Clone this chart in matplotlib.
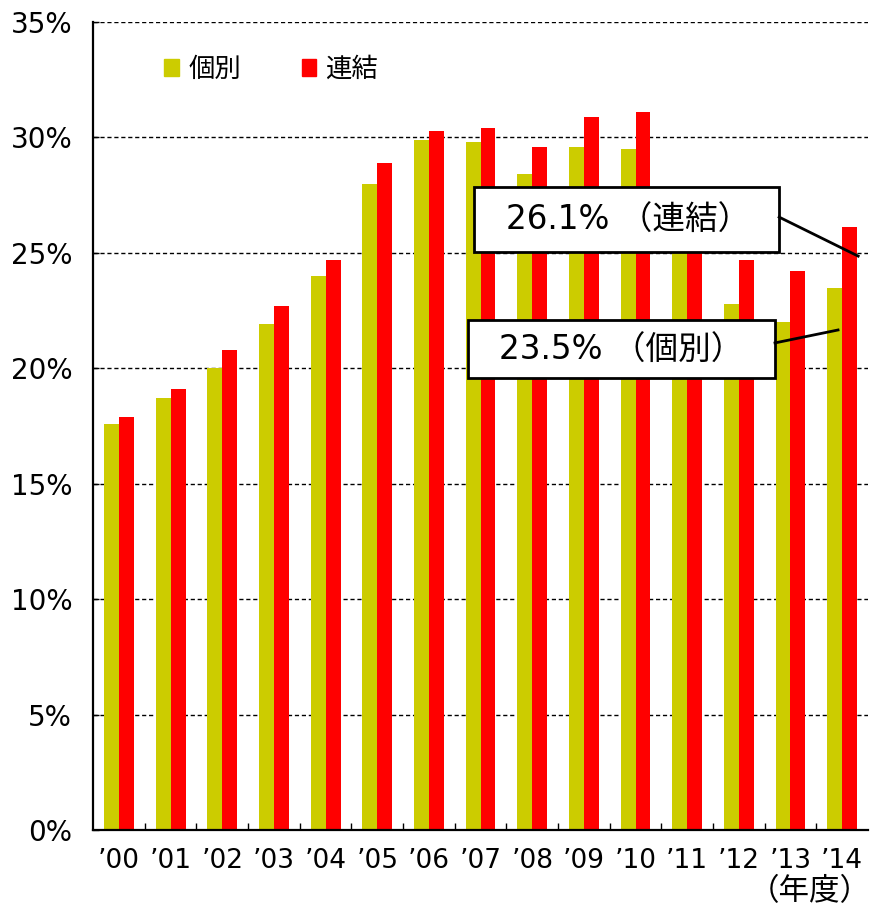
import matplotlib.pyplot as plt
import numpy as np
from matplotlib.patches import Rectangle, Patch
from matplotlib.ticker import FixedLocator, FuncFormatter

plt.rcParams['font.family'] = ['DejaVu Sans', 'Noto Sans CJK JP']

years = ['’00', '’01', '’02', '’03', '’04', '’05', '’06', '’07',
         '’08', '’09', '’10', '’11', '’12', '’13', '’14']
kobetsu = [17.6, 18.7, 20.0, 21.9, 24.0, 28.0, 29.9, 29.8,
           28.4, 29.6, 29.5, 25.9, 22.8, 22.0, 23.5]
renketsu = [17.9, 19.1, 20.8, 22.7, 24.7, 28.9, 30.3, 30.4,
            29.6, 30.9, 31.1, 27.0, 24.7, 24.2, 26.1]
yticks = [0, 5, 10, 15, 20, 25, 30, 35]

c_kobetsu = '#CCCC00'
c_renketsu = '#FF0000'
cjk = ['Noto Sans CJK JP', 'DejaVu Sans']

fig = plt.figure(figsize=(8.72, 9.07), dpi=100)
ax = fig.add_axes([0.1067, 0.0849, 0.8887, 0.8908])

x = np.arange(len(years))
w = 0.29
ax.bar(x - w / 2, kobetsu, w, color=c_kobetsu, zorder=2)
ax.bar(x + w / 2, renketsu, w, color=c_renketsu, zorder=2)

ax.set_xlim(-0.5, len(years) - 0.5)
ax.set_ylim(0, 35)
ax.set_yticks(yticks)
ax.yaxis.set_major_formatter(FuncFormatter(lambda v, p: '%d%%' % v))
ax.yaxis.grid(True, color='black', linestyle=(0, (3, 2)), linewidth=1)
ax.set_axisbelow(True)

ax.set_xticks(x)
ax.set_xticklabels(years)
ax.xaxis.set_minor_locator(FixedLocator(np.arange(0.5, len(years) - 1, 1)))
ax.tick_params(axis='x', which='major', length=0, labelsize=19, pad=13)
ax.tick_params(axis='x', which='minor', direction='in', length=5, width=1)
ax.tick_params(axis='y', direction='in', length=4, width=1, labelsize=20, pad=15)

for s in ['top', 'right']:
    ax.spines[s].set_visible(False)
for s in ['left', 'bottom']:
    ax.spines[s].set_linewidth(1.6)

# legend
handles = [Patch(color=c_kobetsu), Patch(color=c_renketsu)]
ax.legend(handles, ['個別', '連結'], loc='upper left', bbox_to_anchor=(0.092, 0.958),
          ncol=2, frameon=False, prop={'family': cjk, 'size': 19},
          handlelength=0.55, handleheight=0.6,
          handletextpad=0.35, columnspacing=2.3, borderaxespad=0, borderpad=0)

# callout boxes
ax.add_patch(Rectangle((6.87, 25.04), 5.91, 2.82, facecolor='white',
                       edgecolor='black', linewidth=2, zorder=4))
ax.text(9.85, 26.42, '26.1% （連結）', fontsize=23.5, ha='center', va='center', zorder=5)
ax.plot([12.78, 14.31], [26.55, 24.86], color='black', linewidth=2, zorder=5,
        clip_on=False)

ax.add_patch(Rectangle((6.76, 19.58), 5.94, 2.52, facecolor='white',
                       edgecolor='black', linewidth=2, zorder=4))
ax.text(9.73, 20.78, '23.5% （個別）', fontsize=23.5, ha='center', va='center', zorder=5)
ax.plot([12.70, 13.92], [21.10, 21.66], color='black', linewidth=2, zorder=5)

fig.text(0.999, 0.0, '（年度）', fontsize=22, ha='right', va='bottom', family=cjk)

fig.savefig('out.png', dpi=100)
